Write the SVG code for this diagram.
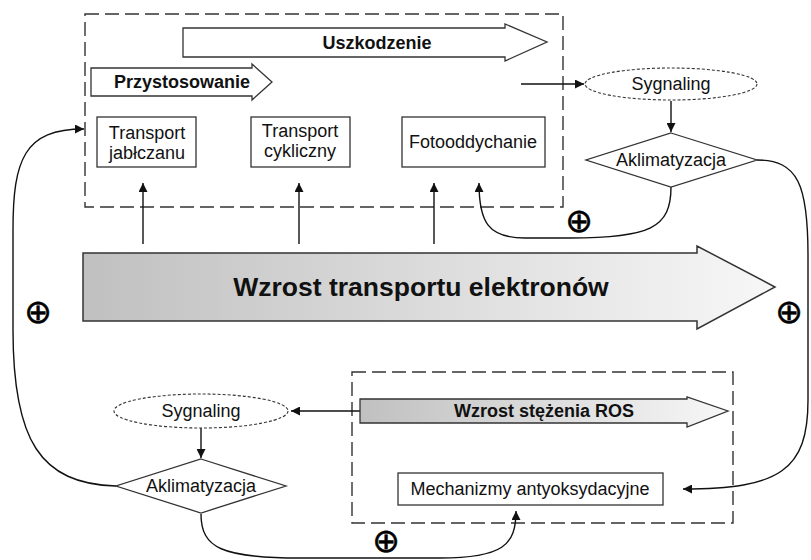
<svg xmlns="http://www.w3.org/2000/svg" width="811" height="560" viewBox="0 0 811 560">
  <style>
    .t { font-family: "Liberation Sans", Arial, sans-serif; font-size: 18px; fill: #111; text-anchor: middle; }
    .b { font-weight: bold; }
    .box { fill: #fff; stroke: #333; stroke-width: 1.3; }
    .zone { fill: none; stroke: #333; stroke-width: 1.4; stroke-dasharray: 14 6; }
    .oval { fill: #fff; stroke: #333; stroke-width: 1.1; stroke-dasharray: 3 2; }
    .flow { fill: #fff; stroke: #333; stroke-width: 1.3; }
    .con { fill: none; stroke: #111; stroke-width: 1.4; }
    .plus { font-family: "DejaVu Sans", sans-serif; font-size: 33px; fill: #000; stroke: #000; stroke-width: 0.5; text-anchor: middle; }
  </style>
  <defs>
    <linearGradient id="gray" x1="0" y1="0" x2="1" y2="0">
      <stop offset="0" stop-color="#c0c0c0"/>
      <stop offset="1" stop-color="#f7f7f7"/>
    </linearGradient>
    <marker id="ah" viewBox="0 0 10 10" refX="10" refY="5" markerWidth="9" markerHeight="9" markerUnits="userSpaceOnUse" orient="auto">
      <path d="M0,0 L10,5 L0,10 z" fill="#111"/>
    </marker>
  </defs>

  <rect width="811" height="560" fill="#fff"/>

  <!-- dashed regions -->
  <g id="zone-top"><rect class="zone" x="85" y="14" width="478" height="193"/></g>
  <g id="zone-bottom"><rect class="zone" x="352" y="372" width="381" height="151"/></g>

  <!-- connectors -->
  <g id="connectors">
    <line class="con" x1="143" y1="244" x2="143" y2="183" marker-end="url(#ah)"/>
    <line class="con" x1="299" y1="244" x2="299" y2="183" marker-end="url(#ah)"/>
    <line class="con" x1="434" y1="244" x2="434" y2="183" marker-end="url(#ah)"/>
    <line class="con" x1="521" y1="84" x2="584" y2="84" marker-end="url(#ah)"/>
    <line class="con" x1="671" y1="101" x2="671" y2="132" marker-end="url(#ah)"/>
    <line class="con" x1="360" y1="411" x2="291" y2="411" marker-end="url(#ah)"/>
    <line class="con" x1="201" y1="428" x2="201" y2="458" marker-end="url(#ah)"/>
    <path class="con" d="M671,187 C671,228 650,238 570,238 L525,238 C488,238 479,222 479,183" marker-end="url(#ah)"/>
    <path class="con" d="M757,160 C798,160 808,185 808,255 L808,400 C808,470 780,489 683,489" marker-end="url(#ah)"/>
    <path class="con" d="M116,486 C40,484 13,440 13,330 L13,230 C13,160 24,129 84,129" marker-end="url(#ah)"/>
    <path class="con" d="M201,514 C201,548 222,558 300,558 L440,558 C503,558 516,545 516,511" marker-end="url(#ah)"/>
  </g>

  <!-- process arrows -->
  <g id="uszkodzenie">
    <polygon class="flow" points="183,28 505,28 505,24 547,42 505,61 505,57 183,57"/>
    <text class="t b" x="377" y="49">Uszkodzenie</text>
  </g>
  <g id="przystosowanie">
    <polygon class="flow" points="91,68 252,68 252,64 272,82 252,100 252,96 91,96"/>
    <text class="t b" x="182" y="88">Przystosowanie</text>
  </g>
  <g id="elektrony">
    <polygon points="83,253 697,253 697,246 775,287 697,329 697,321 83,321" fill="url(#gray)" stroke="#333" stroke-width="1.5"/>
    <text class="t b" x="421" y="296" style="font-size:26.5px">Wzrost transportu elektronów</text>
  </g>
  <g id="ros">
    <polygon points="360,399 687,399 687,397 728,411 687,427 687,423 360,423" fill="url(#gray)" stroke="#333" stroke-width="1.3"/>
    <text class="t b" x="544" y="417">Wzrost stężenia ROS</text>
  </g>

  <!-- process boxes -->
  <g id="jablczan">
    <rect class="box" x="97" y="117" width="99" height="50"/>
    <text class="t" x="147" y="139">Transport</text>
    <text class="t" x="147" y="159">jabłczanu</text>
  </g>
  <g id="cykliczny">
    <rect class="box" x="251" y="117" width="99" height="50"/>
    <text class="t" x="300" y="137">Transport</text>
    <text class="t" x="300" y="157">cykliczny</text>
  </g>
  <g id="fotooddychanie">
    <rect class="box" x="402" y="117" width="143" height="50"/>
    <text class="t" x="473" y="148">Fotooddychanie</text>
  </g>
  <g id="antyoksydacja">
    <rect class="box" x="398" y="473" width="265" height="32"/>
    <text class="t" x="530" y="495">Mechanizmy antyoksydacyjne</text>
  </g>

  <!-- signalling and acclimation -->
  <g id="sygnaling-top">
    <ellipse class="oval" cx="671" cy="84" rx="86" ry="16"/>
    <text class="t" x="671" y="90">Sygnaling</text>
  </g>
  <g id="aklimatyzacja-top">
    <polygon class="box" points="671,133 757,160 671,187 586,160"/>
    <text class="t" x="671" y="166">Aklimatyzacja</text>
  </g>
  <g id="sygnaling-bottom">
    <ellipse class="oval" cx="201" cy="411" rx="87" ry="17"/>
    <text class="t" x="201" y="417">Sygnaling</text>
  </g>
  <g id="aklimatyzacja-bottom">
    <polygon class="box" points="201,459 286,486 201,513 116,486"/>
    <text class="t" x="201" y="492">Aklimatyzacja</text>
  </g>

  <!-- positive feedback marks -->
  <g id="plus-marks">
    <text class="plus" x="579" y="232">⊕</text>
    <text class="plus" x="789" y="323">⊕</text>
    <text class="plus" x="38" y="323">⊕</text>
    <text class="plus" x="386" y="552">⊕</text>
  </g>
</svg>
